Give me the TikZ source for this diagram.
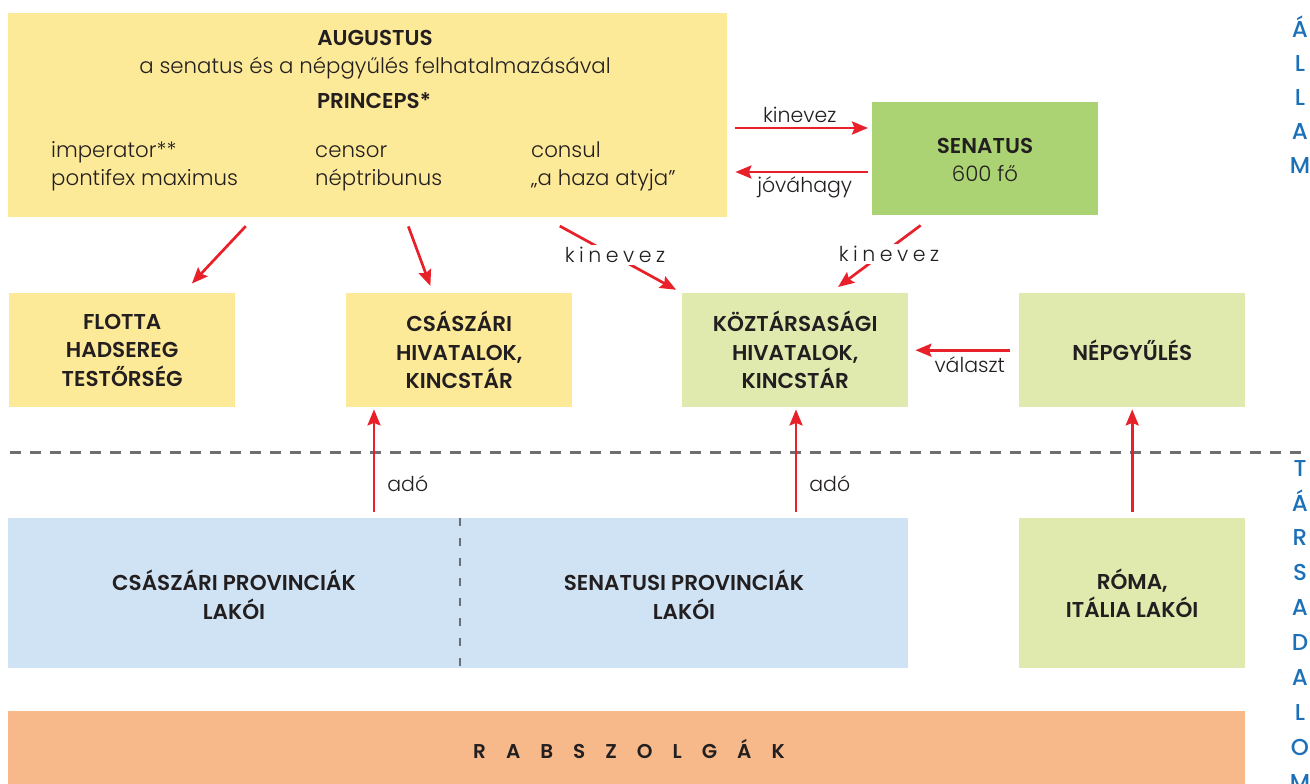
\documentclass[tikz,border=0pt]{standalone}
\usepackage{fontspec}
\setmainfont{Poppins}[UprightFont={* Light}]
\newfontfamily\sidefont{Poppins}[UprightFont={* Medium}]
\usetikzlibrary{arrows.meta}
\definecolor{ylw}{HTML}{FDEA98}
\definecolor{sgreen}{HTML}{ABD373}
\definecolor{lgreen}{HTML}{E0EAAF}
\definecolor{lblue}{HTML}{CFE3F4}
\definecolor{orng}{HTML}{F7B98A}
\definecolor{arrred}{HTML}{E8202A}
\definecolor{txt}{HTML}{231F20}
\definecolor{sideblue}{HTML}{1C70B8}
\definecolor{dgray}{HTML}{6D6E70}
\begin{document}
\begin{tikzpicture}[x=1pt,y=-1pt,
  every node/.style={text=txt},
  box/.style={fill=#1, draw=none, inner sep=0pt, anchor=north west, align=center,
    font=\bfseries\fontsize{21.5}{28.5}\selectfont},
  bt/.style={font=\bfseries\fontsize{21.5}{24}\selectfont, inner sep=0pt},
  rt/.style={font=\fontsize{21.3}{24}\selectfont, inner sep=0pt},
  lbl/.style={font=\fontsize{20.5}{22}\selectfont, inner sep=1pt},
  sp/.style={font=\fontsize{20.5}{22}\selectfont\addfontfeatures{LetterSpace=22}, inner sep=2pt, fill=white},
  arr/.style={draw=arrred, line width=2.7pt, -{Stealth[length=16pt,width=13pt,inset=2.5pt]}},
  side/.style={text=sideblue, font=\sidefont\fontsize{23}{#1}\selectfont, align=center, inner sep=0pt, anchor=north},
  hdash/.style={draw=dgray, line width=3pt, dash pattern=on 11pt off 9pt},
  vdash/.style={draw=dgray, line width=2pt, dash pattern=on 8pt off 12pt},
]
\useasboundingbox (0,0) rectangle (1310,784);

% boxes
\node[box=ylw, minimum width=719pt, minimum height=204pt] (aug) at (8,13) {};
\node[box=sgreen, minimum width=226pt, minimum height=113pt] (sen) at (872,102) {};
\node[box=ylw, minimum width=226pt, minimum height=114pt] (flotta) at (9,293) {FLOTTA\\HADSEREG\\TESTŐRSÉG};
\node[box=ylw, minimum width=226pt, minimum height=114pt] (csh) at (346,293) {CSÁSZÁRI\\HIVATALOK,\\KINCSTÁR};
\node[box=lgreen, minimum width=226pt, minimum height=114pt] (kozt) at (682,293) {KÖZTÁRSASÁGI\\HIVATALOK,\\KINCSTÁR};
\node[box=lgreen, minimum width=226pt, minimum height=114pt] (nep) at (1019,293) {NÉPGYŰLÉS};
\node[box=lblue, minimum width=900pt, minimum height=150pt] (prov) at (8,518) {};
\node[box=lgreen, minimum width=226pt, minimum height=150pt] (roma) at (1019,518) {RÓMA,\\ITÁLIA LAKÓI};
\node[box=orng, minimum width=1237pt, minimum height=90pt] (rab) at (8,711) {};

% Augustus texts
\node[bt, anchor=base] (augt) at (375,46) {AUGUSTUS};
\node[rt, anchor=base] (augsub) at (375,74) {a senatus és a népgyűlés felhatalmazásával};
\node[bt, anchor=base] (princ) at (374,109) {PRINCEPS*};
\node[rt, anchor=base west] (c11) at (51,157) {imperator**};
\node[rt, anchor=base west] (c12) at (51,185) {pontifex maximus};
\node[rt, anchor=base west] (c21) at (315,157) {censor};
\node[rt, anchor=base west] (c22) at (315,185) {néptribunus};
\node[rt, anchor=base west] (c31) at (531,157) {consul};
\node[rt, anchor=base west] (c32) at (531,185) {„a haza atyja”};

% Senatus texts
\node[bt, anchor=base] (sent) at (985,153) {SENATUS};
\node[rt, anchor=base] (senn) at (985,181) {600 fő};

% provinces texts
\node[box=lblue, anchor=center, fill=none] (cpt) at (234,595) {CSÁSZÁRI PROVINCIÁK\\LAKÓI};
\node[box=lblue, anchor=center, fill=none] (spt) at (684,595) {SENATUSI PROVINCIÁK\\LAKÓI};
\node[bt, font=\bfseries\fontsize{20}{22}\selectfont\addfontfeatures{LetterSpace=100}] (rabt) at (629,749) {RABSZOLGÁK};

% side labels
\node[side=33.8] (allam) at (1300,16) {Á\\L\\L\\A\\M};
\node[side=34.9] (tars) at (1300,460) {T\\Á\\R\\S\\A\\D\\A\\L\\O\\M};

% helper coordinates
\coordinate (k1) at (0,128);
\coordinate (k2) at (0,172);
\coordinate (x254) at (254,0);
\coordinate (x183) at (183,0);
\coordinate (x405) at (405,0);
\coordinate (x433) at (433,0);
\coordinate (x544) at (544,0);
\coordinate (x934) at (934,0);
\coordinate (x830) at (830,0);
\coordinate (x374) at (374,0);
\coordinate (x796) at (796,0);
\coordinate (xdiv) at (460,0);
\coordinate (dl) at (10,452);
\coordinate (dr) at (1310,452);

% separators
\draw[hdash] (dl) -- (dr);
\draw[vdash] (prov.north -| xdiv) -- (prov.south -| xdiv);

% arrows
\draw[arr, shorten <=8pt, shorten >=4pt] (aug.east |- k1) -- (sen.west |- k1)
  node[lbl, midway, above=3pt] (l1) {kinevez};
\draw[arr, shorten <=4pt, shorten >=8pt] (sen.west |- k2) -- (aug.east |- k2)
  node[lbl, midway, below=2pt, xshift=5pt] (l2) {jóváhagy};
\draw[arr, shorten <=12pt, shorten >=13pt] (aug.south -| x254) -- (flotta.north -| x183);
\draw[arr, shorten <=9.6pt, shorten >=7.5pt] (aug.south -| x405) -- (csh.north -| x433);
\draw[arr, shorten <=18pt, shorten >=6.7pt] (aug.south -| x544) -- (kozt.north west)
  node[sp, midway, xshift=2pt] (l3) {kinevez};
\draw[arr, shorten <=16.7pt, shorten >=10pt] (sen.south -| x934) -- (kozt.north -| x830)
  node[sp, midway, xshift=7pt] (l4) {kinevez};
\draw[arr, shorten <=9pt, shorten >=7pt] (nep.west) -- (kozt.east)
  node[lbl, midway, below=4pt, xshift=6pt] (l5) {választ};
\draw[arr, shorten <=6pt, shorten >=2pt] (prov.north -| x374) -- (csh.south -| x374)
  node[lbl, pos=0.31, right=11pt] (l6) {adó};
\draw[arr, shorten <=6pt, shorten >=2pt] (prov.north -| x796) -- (kozt.south -| x796)
  node[lbl, pos=0.31, right=11pt] (l7) {adó};
\draw[arr, shorten <=6pt, shorten >=2pt] (roma.north) -- (nep.south);
\end{tikzpicture}
\end{document}
